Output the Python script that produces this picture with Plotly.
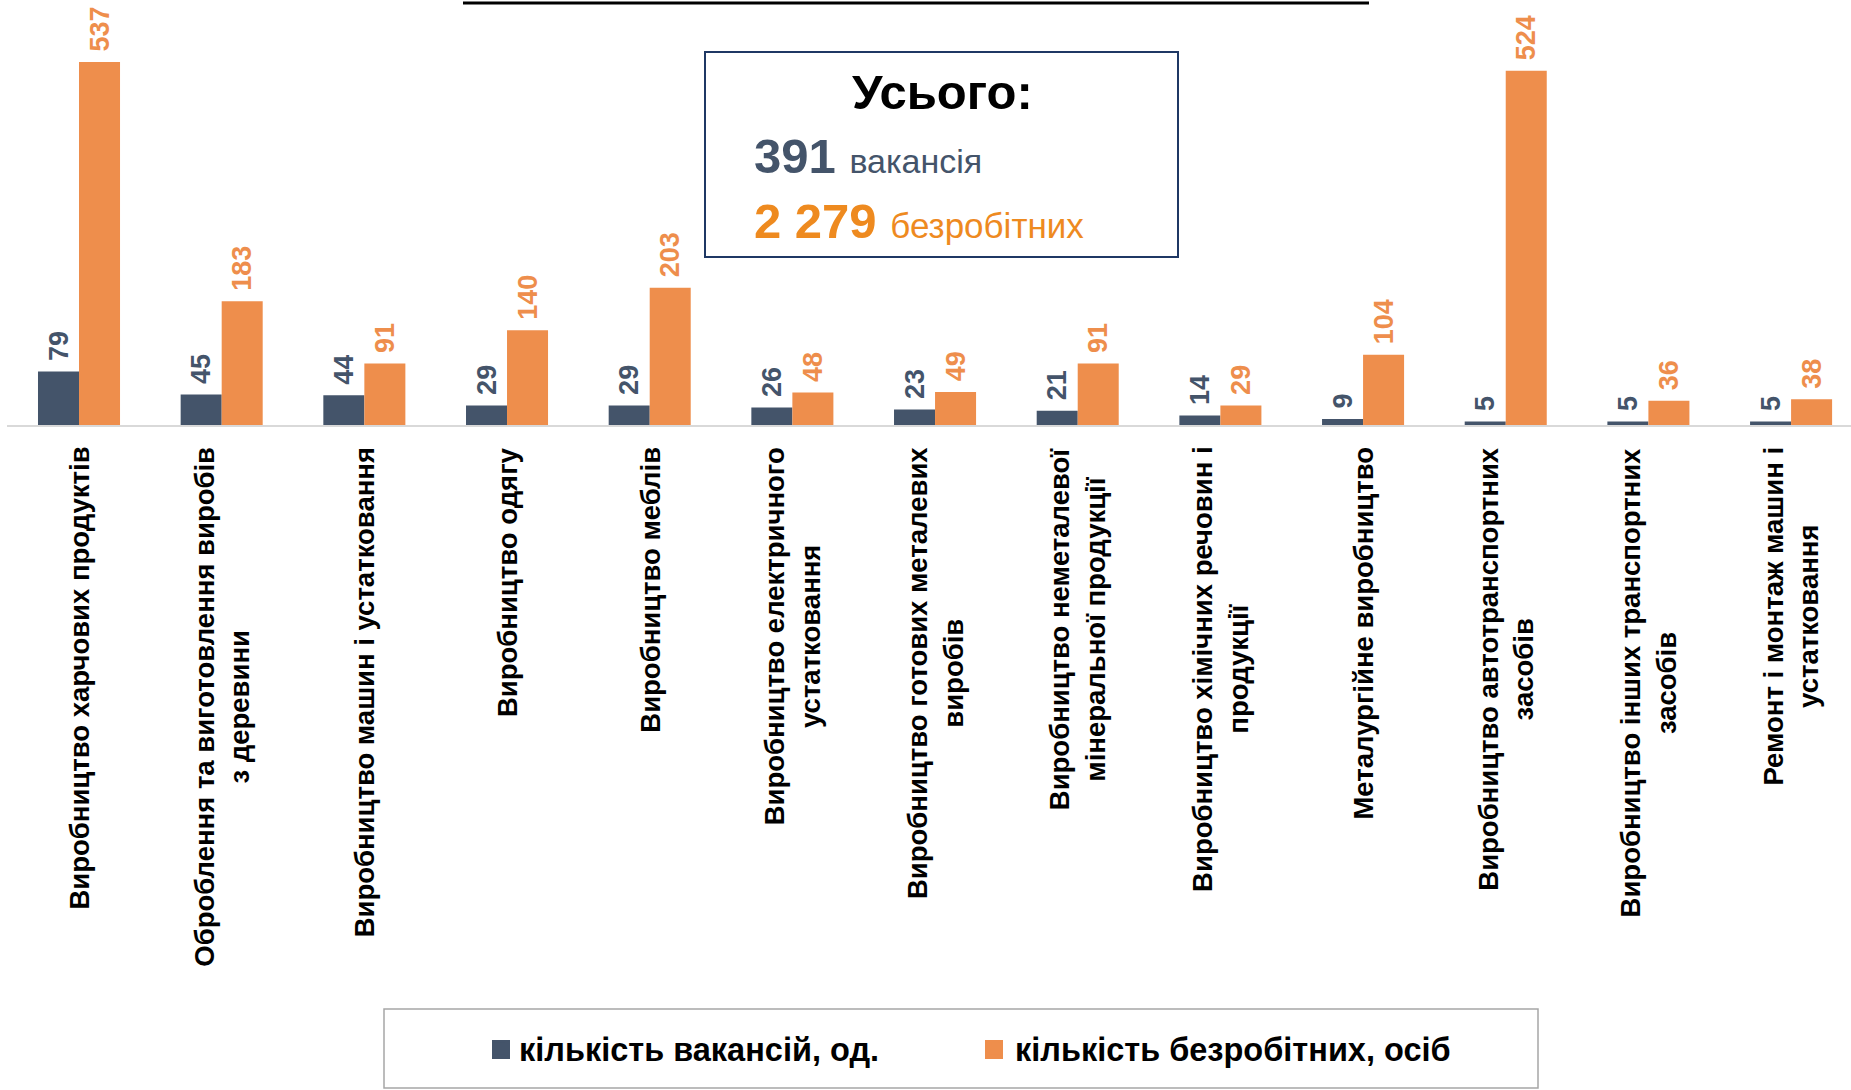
import plotly.graph_objects as go

# ---------------- data ----------------
categories = [
    "Виробництво харчових продуктів",
    "Оброблення та виготовлення виробів<br>з деревини",
    "Виробництво машин і устатковання",
    "Виробництво одягу",
    "Виробництво меблів",
    "Виробництво електричного<br>устатковання",
    "Виробництво готових металевих<br>виробів",
    "Виробництво неметалевої<br>мінеральної продукції",
    "Виробництво хімічних речовин і<br>продукції",
    "Металургійне виробництво",
    "Виробництво автотранспортних<br>засобів",
    "Виробництво інших транспортних<br>засобів",
    "Ремонт і монтаж машин і<br>устатковання",
]
vacancies = [79, 45, 44, 29, 29, 26, 23, 21, 14, 9, 5, 5, 5]
unemployed = [537, 183, 91, 140, 203, 48, 49, 91, 29, 104, 524, 36, 38]
series_names = ["кількість вакансій, од.", "кількість безробітних, осіб"]

total_title = "Усього:"
total_vacancies = 391
total_vacancies_word = "вакансія"
total_unemployed = 2279
total_unemployed_word = "безробітних"

# ---------------- style ----------------
W, H = 1851, 1090
DARK = "#44546A"
ORANGE = "#EE8E4C"
ORANGE_TXT = "#EE8A1F"
SANS = "Liberation Sans, Arial, sans-serif"
NARROW = "Liberation Sans Narrow, Arial Narrow, Liberation Sans, sans-serif"


def px(x):
    return x / W


def py(y):
    return 1 - y / H


fig = go.Figure()
for vals, name, col in [(vacancies, series_names[0], DARK),
                        (unemployed, series_names[1], ORANGE)]:
    fig.add_trace(go.Bar(
        x=categories, y=vals, name=name, marker=dict(color=col, line=dict(width=0)),
        text=["\u00a0" + str(v) for v in vals], textposition="outside", textangle=-90,
        textfont=dict(family=SANS, size=27, color=col, weight="bold"),
        constraintext="none", cliponaxis=False, hoverinfo="skip",
    ))

# category labels (rotated, centred lines)
for c in categories:
    fig.add_annotation(
        x=c, xref="x", y=py(445), yref="paper", text=c, textangle=-90,
        showarrow=False, xanchor="center", yanchor="top", align="center",
        font=dict(family=SANS, size=27.5, color="black", weight="bold"),
    )

# totals box
fig.add_shape(type="rect", xref="paper", yref="paper",
              x0=px(705), x1=px(1178), y0=py(257), y1=py(52),
              line=dict(color="#1F3864", width=2), fillcolor="white", layer="below")
fig.add_annotation(x=px(942), y=py(92), xref="paper", yref="paper", showarrow=False,
                   text=total_title, xanchor="center", yanchor="middle",
                   font=dict(family=SANS, size=49, color="black", weight="bold"))
fig.add_annotation(x=px(752), y=py(156), xref="paper", yref="paper", showarrow=False,
                   text=f"<b>{total_vacancies}</b> <span style='font-size:34px'>{total_vacancies_word}</span>",
                   xanchor="left", yanchor="middle",
                   font=dict(family=NARROW, size=49, color=DARK))
fig.add_annotation(x=px(752), y=py(221), xref="paper", yref="paper", showarrow=False,
                   text=f"<b>{total_unemployed:,}</b> <span style='font-size:35px'>{total_unemployed_word}</span>".replace(",", " "),
                   xanchor="left", yanchor="middle",
                   font=dict(family=NARROW, size=49, color=ORANGE_TXT))

# partially visible title underline
fig.add_shape(type="line", xref="paper", yref="paper",
              x0=px(463), x1=px(1369), y0=py(3), y1=py(3),
              line=dict(color="black", width=3))

# legend frame and enlarged legend swatches
fig.add_shape(type="rect", xref="paper", yref="paper",
              x0=px(384), x1=px(1538), y0=py(1088), y1=py(1009),
              line=dict(color="#A6A6A6", width=1.5))
for x0, col in [(492, DARK), (985, ORANGE)]:
    fig.add_shape(type="rect", xref="paper", yref="paper",
                  x0=px(x0), x1=px(x0 + 18), y0=py(1059), y1=py(1040),
                  line=dict(width=0), fillcolor=col)

fig.update_layout(
    width=W, height=H,
    margin=dict(l=0, r=0, t=0, b=0),
    paper_bgcolor="white", plot_bgcolor="white",
    barmode="group", bargap=0.425, bargroupgap=0,
    showlegend=True,
    legend=dict(orientation="h", x=px(479), xanchor="left", y=py(1049), yanchor="middle",
                font=dict(family=NARROW, size=32.5, color="black", weight="bold"),
                bgcolor="rgba(0,0,0,0)", entrywidth=451, entrywidthmode="pixels",
                traceorder="normal"),
    xaxis=dict(domain=[px(7), 1], range=[-0.5047, 12.42], showticklabels=False,
               showgrid=False, zeroline=False, showline=True, linecolor="#D9D9D9",
               linewidth=2, ticks="", fixedrange=True),
    yaxis=dict(domain=[py(425), 1], range=[0, 425 / 0.676], visible=False,
               showgrid=False, zeroline=False, fixedrange=True),
)

fig.write_html(
    "out.html",
    config={"displayModeBar": False},
    post_script="document.body.style.margin='0';document.body.style.overflow='hidden';",
)
